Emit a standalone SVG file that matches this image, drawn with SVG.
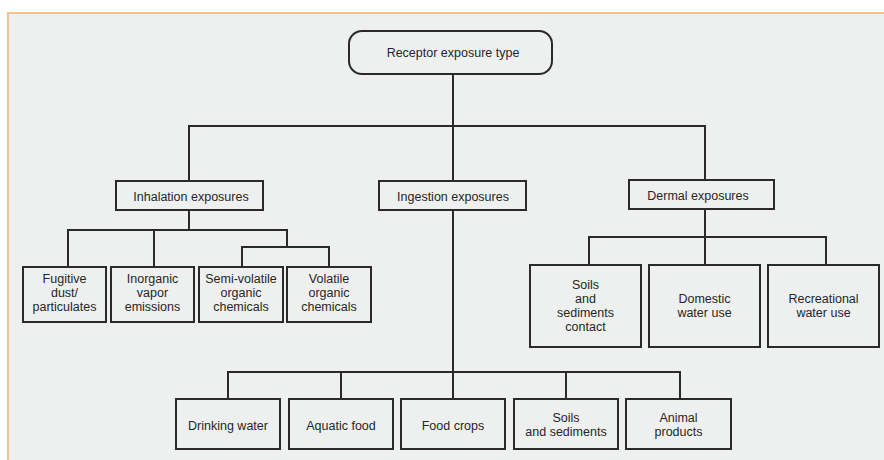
<svg xmlns="http://www.w3.org/2000/svg" width="884" height="460" viewBox="0 0 884 460">
  <style>
    .panel { fill: #eef0ef; }
    .edge { stroke: #f4c293; stroke-width: 2; fill: none; }
    .box { fill: none; stroke: #2a2a2a; stroke-width: 2; }
    .wire { fill: none; stroke: #2a2a2a; stroke-width: 2; }
    text { font-family: "Liberation Sans", Arial, sans-serif; font-size: 12.5px; fill: #262626; text-anchor: middle; }
  </style>

  <!-- page background with framed panel -->
  <rect x="0" y="0" width="884" height="460" fill="#ffffff"/>
  <rect class="panel" x="8" y="13" width="876" height="447"/>
  <path class="edge" d="M8,460 V13 H884"/>

  <!-- tree connectors -->
  <g id="connectors">
    <path class="wire" d="M453,74 V126"/>
    <path class="wire" d="M189,181 V126 H705 V180"/>
    <path class="wire" d="M453,126 V181"/>
    <!-- inhalation branch -->
    <path class="wire" d="M189,210 V230"/>
    <path class="wire" d="M68,267 V230 H287 V247"/>
    <path class="wire" d="M154,230 V267"/>
    <path class="wire" d="M242,267 V247 H329 V267"/>
    <!-- dermal branch -->
    <path class="wire" d="M705,209 V237"/>
    <path class="wire" d="M589,265 V237 H826 V265"/>
    <path class="wire" d="M705,237 V265"/>
    <!-- ingestion branch -->
    <path class="wire" d="M453,210 V399"/>
    <path class="wire" d="M228,399 V372 H680 V399"/>
    <path class="wire" d="M341,372 V399"/>
    <path class="wire" d="M566,372 V399"/>
  </g>

  <g id="root">
    <rect class="box" x="349" y="31" width="203" height="43" rx="13" ry="13"/>
    <text x="453" y="57">Receptor exposure type</text>
  </g>

  <g id="inhalation">
    <rect class="box" x="116" y="181" width="147" height="29"/>
    <text x="191" y="201">Inhalation exposures</text>
  </g>
  <g id="ingestion">
    <rect class="box" x="379" y="181" width="147" height="29"/>
    <text x="453" y="201">Ingestion exposures</text>
  </g>
  <g id="dermal">
    <rect class="box" x="629" y="180" width="145" height="29"/>
    <text x="698" y="200">Dermal exposures</text>
  </g>

  <g id="fugitive-dust">
    <rect class="box" x="23" y="267" width="83" height="55"/>
    <text x="64.5" y="283">Fugitive</text>
    <text x="64.5" y="297">dust/</text>
    <text x="64.5" y="311">particulates</text>
  </g>
  <g id="inorganic-vapor">
    <rect class="box" x="111" y="267" width="83" height="55"/>
    <text x="152.5" y="283">Inorganic</text>
    <text x="152.5" y="297">vapor</text>
    <text x="152.5" y="311">emissions</text>
  </g>
  <g id="semi-volatile">
    <rect class="box" x="199" y="267" width="84" height="55"/>
    <text x="241" y="283">Semi-volatile</text>
    <text x="241" y="297">organic</text>
    <text x="241" y="311">chemicals</text>
  </g>
  <g id="volatile">
    <rect class="box" x="287" y="267" width="84" height="55"/>
    <text x="329" y="283">Volatile</text>
    <text x="329" y="297">organic</text>
    <text x="329" y="311">chemicals</text>
  </g>

  <g id="soils-contact">
    <rect class="box" x="530" y="265" width="111" height="82"/>
    <text x="585.5" y="289">Soils</text>
    <text x="585.5" y="303">and</text>
    <text x="585.5" y="317">sediments</text>
    <text x="585.5" y="331">contact</text>
  </g>
  <g id="domestic-water">
    <rect class="box" x="649" y="265" width="111" height="82"/>
    <text x="704.5" y="303">Domestic</text>
    <text x="704.5" y="317">water use</text>
  </g>
  <g id="recreational-water">
    <rect class="box" x="768" y="265" width="111" height="82"/>
    <text x="823.5" y="303">Recreational</text>
    <text x="823.5" y="317">water use</text>
  </g>

  <g id="drinking-water">
    <rect class="box" x="176" y="399" width="104" height="50"/>
    <text x="228" y="430">Drinking water</text>
  </g>
  <g id="aquatic-food">
    <rect class="box" x="289" y="399" width="104" height="50"/>
    <text x="341" y="430">Aquatic food</text>
  </g>
  <g id="food-crops">
    <rect class="box" x="401" y="399" width="104" height="50"/>
    <text x="453" y="430">Food crops</text>
  </g>
  <g id="soils-sediments">
    <rect class="box" x="514" y="399" width="104" height="50"/>
    <text x="566" y="422">Soils</text>
    <text x="566" y="436">and sediments</text>
  </g>
  <g id="animal-products">
    <rect class="box" x="626" y="399" width="105" height="50"/>
    <text x="678.5" y="422">Animal</text>
    <text x="678.5" y="436">products</text>
  </g>
</svg>
